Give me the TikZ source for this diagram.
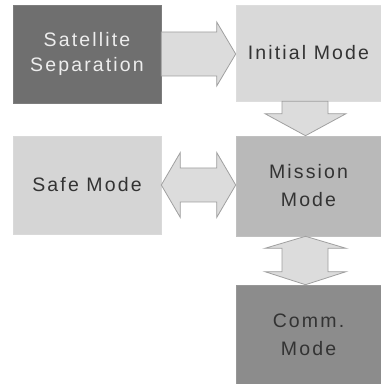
\documentclass[tikz,border=0pt]{standalone}
\usepackage{fontspec}
\setmainfont{Liberation Sans}[LetterSpace=11]
\usetikzlibrary{calc}
\definecolor{darkbox}{HTML}{6F6F6F}
\definecolor{lightbox}{HTML}{D9D9D9}
\definecolor{safebox}{HTML}{D5D5D5}
\definecolor{midbox}{HTML}{B9B9B9}
\definecolor{commbox}{HTML}{8C8C8C}
\definecolor{arrfill}{HTML}{DCDCDC}
\definecolor{arredge}{HTML}{A0A0A0}
\definecolor{txt}{HTML}{333333}
\begin{document}
\begin{tikzpicture}[x=1pt,y=1pt,
  box/.style={rectangle, inner sep=0pt, align=center, font=\fontsize{19.5}{25}\selectfont, text=txt, draw=#1!90!white, fill=#1, line width=0.6pt},
  arr/.style={fill=arrfill, draw=arredge, line width=0.8pt, line join=miter}]
\useasboundingbox (0,0) rectangle (381,384);
\fill[white] (0,0) rectangle (381,384);
\node[box=darkbox, text=white!93!black, minimum width=148pt, minimum height=98pt] (sat) at (87,330) {Satellite\\Separation};
\node[box=lightbox, minimum width=145pt, minimum height=96pt] (init) at (308.5,331) {Initial Mode};
\node[box=safebox, minimum width=148pt, minimum height=98pt] (safe) at (87,199) {Safe Mode};
\node[box=midbox, minimum width=145pt, minimum height=100pt] (mission) at (308.5,198) {\raisebox{3pt}{Mission}\\Mode};
\node[box=commbox, minimum width=145pt, minimum height=99pt] (comm) at (308.5,49.5) {\raisebox{3pt}{Comm.}\\Mode};
% right arrow sat -> init
\draw[arr] let \p1=(sat.east), \p2=(init.west) in
  (\x1,\y1+22pt) -- (\x2-19pt,\y1+22pt) -- (\x2-19pt,\y1+32pt) -- (\x2,\y1) --
  (\x2-19pt,\y1-32pt) -- (\x2-19pt,\y1-22pt) -- (\x1,\y1-22pt) -- cycle;
% down arrow init -> mission
\draw[arr] let \p1=(init.south), \p2=(mission.north) in
  (\x1-26.5pt,\y1) -- (\x1-26.5pt,\y2+22pt) -- (\x1-43.5pt,\y2+22pt) -- (\x1-3pt,\y2) --
  (\x1+37.5pt,\y2+22pt) -- (\x1+19.5pt,\y2+22pt) -- (\x1+19.5pt,\y1) -- cycle;
% double arrow safe <-> mission
\draw[arr] let \p1=(safe.east), \p2=(mission.west) in
  (\x1,\y1) -- (\x1+19pt,\y1+32.5pt) -- (\x1+19pt,\y1+17pt) -- (\x2-19pt,\y1+17pt) --
  (\x2-19pt,\y1+32.5pt) -- (\x2,\y1) -- (\x2-19pt,\y1-32.5pt) -- (\x2-19pt,\y1-17pt) --
  (\x1+19pt,\y1-17pt) -- (\x1+19pt,\y1-32.5pt) -- cycle;
% double arrow mission <-> comm
\draw[arr] let \p1=(mission.south), \p2=(comm.north) in
  (\x1-3pt,\y1) -- (\x1+37.5pt,\y1-12pt) -- (\x1+19.5pt,\y1-12pt) -- (\x1+19.5pt,\y2+13pt) --
  (\x1+37.5pt,\y2+13pt) -- (\x1-3pt,\y2) -- (\x1-43.5pt,\y2+13pt) -- (\x1-26.5pt,\y2+13pt) --
  (\x1-26.5pt,\y1-12pt) -- (\x1-43.5pt,\y1-12pt) -- cycle;
\end{tikzpicture}
\end{document}
